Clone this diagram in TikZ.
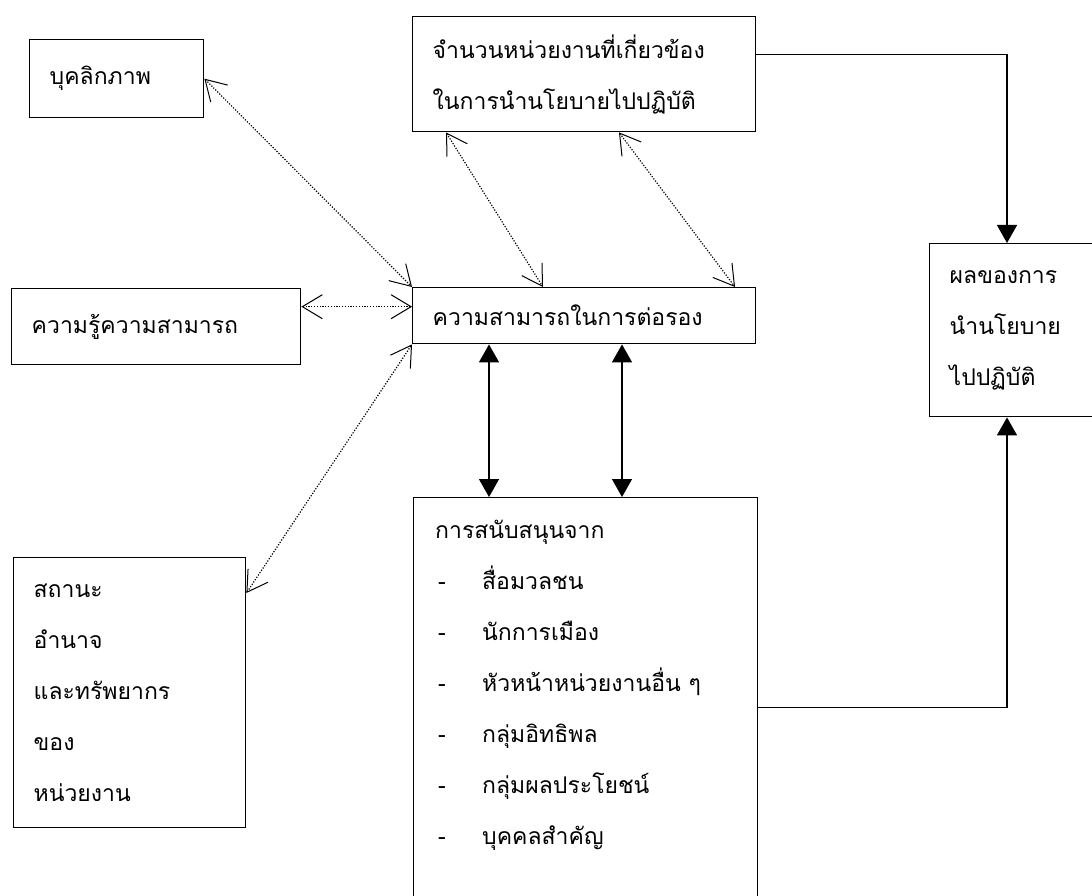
\documentclass[tikz,border=0pt]{standalone}
\usepackage{fontspec}
\newfontfamily\thaifont[Script=Thai]{Loma}
\usetikzlibrary{arrows.meta}

\newcommand\supitem[1]{\hspace*{3pt}\makebox[44pt][l]{-}#1}

\tikzset{
  box/.style={draw, line width=1.4pt, rectangle, anchor=north west, align=left,
    inner xsep=20pt, inner ysep=0pt, font=\thaifont\fontsize{23}{51}\selectfont},
  txt/.style={font=\thaifont\fontsize{23}{51}\selectfont, align=left, inner sep=0pt},
  barbs/.style={dash pattern=on 1.2pt off 1.6pt, line width=1.2pt,
    {Straight Barb[length=20pt,width=24pt,line width=1pt]}-{Straight Barb[length=20pt,width=24pt,line width=1pt]}},
  link/.style={line width=1.4pt, >={Triangle[length=18pt,width=20pt]}}
}

\begin{document}
\begin{tikzpicture}[x=1pt,y=-1pt]
  \useasboundingbox (0,0) rectangle (1092,896);
  \clip (0,0) rectangle (1092,896);

  % boxes
  \node[box, text width=134pt, minimum height=78pt] (pers) at (29,39) {บุคลิกภาพ};
  \node[box, text width=303pt, minimum height=115pt] (cnt) at (412,16)
    {จำนวนหน่วยงานที่เกี่ยวข้อง\\ในการนำนโยบายไปปฏิบัติ};
  \node[box, text width=249pt, minimum height=76pt] (know) at (11,288) {ความรู้ความสามารถ};
  \node[box, text width=303pt, minimum height=56pt] (neg) at (412,287) {ความสามารถในการต่อรอง};
  \node[box, text width=160pt, minimum height=173pt] (res) at (929,243)
    {ผลของการ\\นำนโยบาย\\ไปปฏิบัติ};
  \node[box, text width=192pt, minimum height=270pt] (stat) at (13,557)
    {สถานะ\\อำนาจ\\และทรัพยากร\\ของ\\หน่วยงาน};
  \node[box, text width=304pt, minimum height=430pt] (supp) at (413,497) {};
  \node[txt, anchor=north west] (supptxt) at ([xshift=22pt,yshift=-23pt]supp.north west)
    {การสนับสนุนจาก\\\supitem{สื่อมวลชน}\\\supitem{นักการเมือง}\\\supitem{หัวหน้าหน่วยงานอื่น ๆ}\\
     \supitem{กลุ่มอิทธิพล}\\\supitem{กลุ่มผลประโยชน์}\\\supitem{บุคคลสำคัญ}};

  % connector ends
  \coordinate (kn) at ([yshift=20pt]know.east);
  \coordinate (st) at ([yshift=-36pt]stat.north east);
  \coordinate (c1) at ([xshift=34pt]cnt.south west);
  \coordinate (c2) at ([xshift=207pt]cnt.south west);
  \coordinate (n1) at ([xshift=131pt]neg.north west);
  \coordinate (n2) at ([xshift=323pt]neg.north west);
  \coordinate (s1) at ([xshift=77pt]neg.south west);
  \coordinate (s2) at ([xshift=210pt]neg.south west);
  \coordinate (ct) at ([yshift=19.5pt]cnt.east);
  \coordinate (sp) at ([yshift=5pt]supp.east);
  \coordinate (rt) at ([xshift=78pt]res.north west);
  \coordinate (rb) at ([xshift=78pt]res.south west);

  \path[barbs]
    (pers.east) edge (neg.north west)
    (kn) edge (kn -| neg.west)
    (st) edge (neg.south west)
    (c1) edge (n1)
    (c2) edge (n2);
  \path[link]
    (s1) edge[<->] (s1 |- supp.north)
    (s2) edge[<->] (s2 |- supp.north);
  \draw[link, ->] (ct) -| (rt);
  \draw[link, ->] (sp) -| (rb);
\end{tikzpicture}
\end{document}
